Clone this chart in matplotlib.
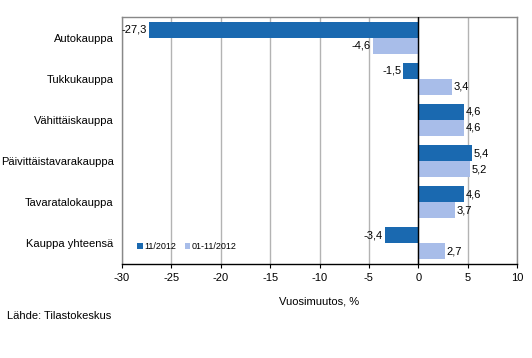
import matplotlib
matplotlib.use("Agg")
import matplotlib.pyplot as plt
import numpy as np

categories = ["Autokauppa", "Tukkukauppa", "Vähittäiskauppa", "Päivittäistavarakauppa",
              "Tavaratalokauppa", "Kauppa yhteensä"]
s_month = [-27.3, -1.5, 4.6, 5.4, 4.6, -3.4]
s_ytd = [-4.6, 3.4, 4.6, 5.2, 3.7, 2.7]
series_names = ["11/2012", "01-11/2012"]
xticks = [-30, -25, -20, -15, -10, -5, 0, 5, 10]

c_dark = "#1a69b0"
c_light = "#a8bde9"

plt.rcParams['font.family'] = ['Arial', 'Liberation Sans', 'DejaVu Sans']
fig = plt.figure(figsize=(5.32, 3.58), dpi=100)
ax = fig.add_axes([122/532, 1 - 264/358, 395/532, 247/358])

n = len(categories)
y = np.arange(n)
h = 0.39
b1 = ax.barh(y - h/2, s_month, height=h, color=c_dark, label=series_names[0], zorder=2)
b2 = ax.barh(y + h/2, s_ytd, height=h, color=c_light, label=series_names[1], zorder=2)

def fmt(v):
    return f"{v:.1f}".replace(".", ",")

for bars, vals in ((b1, s_month), (b2, s_ytd)):
    for rect, v in zip(bars, vals):
        yc = rect.get_y() + rect.get_height()/2
        if v < 0:
            ax.text(v - 0.2, yc, fmt(v), ha="right", va="center", fontsize=8, color="black")
        else:
            ax.text(v + 0.2, yc, fmt(v), ha="left", va="center", fontsize=8, color="black")

ax.set_xlim(-30, 10)
ax.set_ylim(n - 1 + 0.51, -0.51)
ax.set_xticks(xticks)
ax.set_xticklabels([str(t) if t >= 0 else "-" + str(-t) for t in xticks], fontsize=8)
ax.set_yticks(y)
ax.set_yticklabels(categories, fontsize=8)
ax.tick_params(axis="y", length=0, pad=6)
ax.tick_params(axis="x", direction="out", length=3, color="black", pad=3.5)
ax.xaxis.grid(True, color="#b3b3b3", linewidth=1, zorder=0)
ax.set_axisbelow(True)
ax.axvline(0, color="black", linewidth=1, zorder=3)
for s in ("top", "right", "left"):
    ax.spines[s].set_color("#888888")
    ax.spines[s].set_linewidth(1)
ax.spines["bottom"].set_color("black")
ax.spines["bottom"].set_linewidth(1)

ax.set_xlabel("Vuosimuutos, %", fontsize=8, labelpad=10)

ax.legend(loc="lower left", bbox_to_anchor=(0.018, 0.02), ncol=2, frameon=False,
          fontsize=6.5, handlelength=0.6, handleheight=0.6, handletextpad=0.15,
          columnspacing=1.0)

fig.text(7/532, 1 - 316/358, "Lähde: Tilastokeskus", fontsize=8, va="center", ha="left")

fig.savefig("out.png", dpi=100)
